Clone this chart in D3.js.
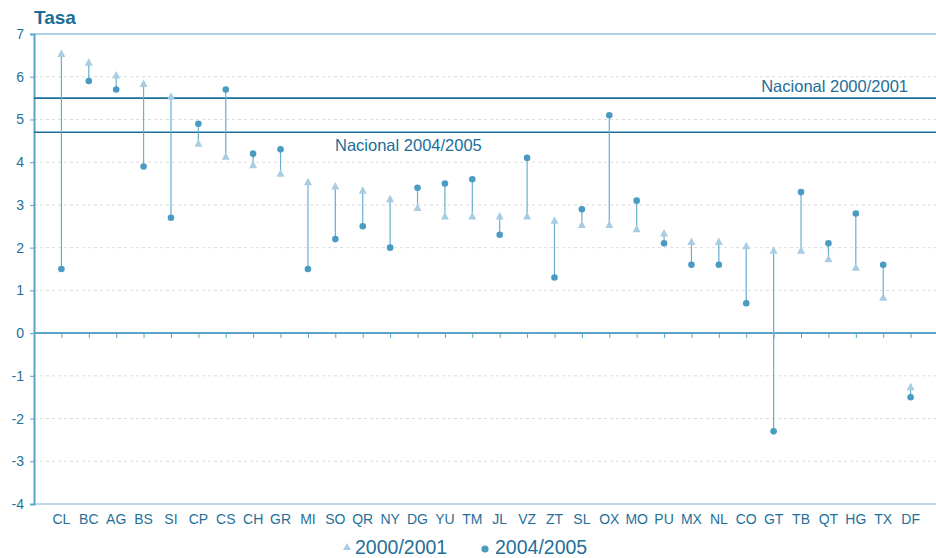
<!DOCTYPE html>
<html lang="es">
<head>
<meta charset="UTF-8">
<title>Tasa</title>
<script src="https://d3js.org/d3.v7.min.js"></script>
<style>
  body { margin: 0; background: #fff; }
  svg { font-family: "Liberation Sans", Arial, sans-serif; }
  .grid line { stroke: #dcdcdc; stroke-dasharray: 3,3; }
  .lbl { fill: #1f6f99; }
</style>
</head>
<body>
<svg width="936" height="558"></svg>
<script>
const states = ["CL","BC","AG","BS","SI","CP","CS","CH","GR","MI","SO","QR","NY","DG","YU","TM",
                "JL","VZ","ZT","SL","OX","MO","PU","MX","NL","CO","GT","TB","QT","HG","TX","DF"];
const tasa2000 = [6.6,6.4,6.1,5.9,5.6,4.5,4.2,4.0,3.8,3.6,3.5,3.4,3.2,3.0,2.8,2.8,
                  2.8,2.8,2.7,2.6,2.6,2.5,2.4,2.2,2.2,2.1,2.0,2.0,1.8,1.6,0.9,-1.2];
const tasa2004 = [1.5,5.9,5.7,3.9,2.7,4.9,5.7,4.2,4.3,1.5,2.2,2.5,2.0,3.4,3.5,3.6,
                  2.3,4.1,1.3,2.9,5.1,3.1,2.1,1.6,1.6,0.7,-2.3,3.3,2.1,2.8,1.6,-1.5];
const nacional = [{label: "Nacional 2000/2001", value: 5.5}, {label: "Nacional 2004/2005", value: 4.7}];
const yTicks = [7,6,5,4,3,2,1,0,-1,-2,-3,-4];
const seriesNames = ["2000/2001", "2004/2005"];

const cTri = "#a8cce1", cDot = "#4a9bc2", cAxis = "#5aa5c9", cNat = "#1b6e98";

const svg = d3.select("svg");
const mLeft = 34, mRight = 938, mTop = 34, mBottom = 504;

const x = d3.scalePoint().domain(states).range([mLeft, mRight]).padding(1);
const y = d3.scaleLinear().domain([-4, 7]).range([mBottom, mTop]);

const data = states.map((s, i) => ({s, a: tasa2000[i], b: tasa2004[i]}));

// title
svg.append("text").attr("x", 34).attr("y", 24)
  .attr("font-size", 19).attr("font-weight", "bold").attr("fill", "#1a6e98").text("Tasa");

// grid
svg.append("g").attr("class", "grid")
  .selectAll("line").data(yTicks.filter(t => t !== 0 && t !== 7 && t !== -4)).join("line")
  .attr("x1", mLeft).attr("x2", 936)
  .attr("y1", d => y(d)).attr("y2", d => y(d));

// top and bottom frame lines
svg.append("line").attr("x1", mLeft).attr("x2", 936).attr("y1", y(7)).attr("y2", y(7))
  .attr("stroke", cAxis).attr("stroke-width", 1);
svg.append("line").attr("x1", mLeft).attr("x2", 936).attr("y1", y(-4)).attr("y2", y(-4))
  .attr("stroke", "#a8cce1").attr("stroke-width", 1.5);

// y axis
const yAxis = svg.append("g").attr("transform", `translate(${mLeft},0)`)
  .call(d3.axisLeft(y).tickValues(yTicks).tickSize(4).tickPadding(6).tickFormat(d => String(d)));
yAxis.select(".domain").attr("stroke", cAxis).attr("stroke-width", 2);
yAxis.selectAll(".tick line").attr("stroke", cAxis);
yAxis.selectAll(".tick text").attr("fill", "#1f6f99").attr("font-size", 14)
  .attr("font-family", "Liberation Sans, Arial, sans-serif");

// zero axis with ticks
const xAxis = svg.append("g").attr("transform", `translate(0,${y(0)})`)
  .call(d3.axisBottom(x).tickSize(5).tickFormat(""));
xAxis.select(".domain").attr("d", `M${mLeft},0H936`).attr("stroke", cAxis).attr("stroke-width", 2);
xAxis.selectAll(".tick line").attr("stroke", cAxis);

// category labels
svg.append("g").selectAll("text").data(states).join("text")
  .attr("class", "lbl").attr("x", d => x(d)).attr("y", 524)
  .attr("text-anchor", "middle").attr("font-size", 14).text(d => d);

// national lines
nacional.forEach(n => {
  svg.append("line").attr("x1", mLeft).attr("x2", 936)
    .attr("y1", y(n.value)).attr("y2", y(n.value))
    .attr("stroke", cNat).attr("stroke-width", 1.6);
});
svg.append("text").attr("x", 908).attr("y", y(5.5) - 6).attr("text-anchor", "end")
  .attr("font-size", 16.5).attr("fill", cNat).text(nacional[0].label);
svg.append("text").attr("x", 335).attr("y", y(4.7) + 19)
  .attr("font-size", 16.5).attr("fill", cNat).text(nacional[1].label);

// connectors
svg.append("g").selectAll("line").data(data).join("line")
  .attr("x1", d => x(d.s)).attr("x2", d => x(d.s))
  .attr("y1", d => y(d.a)).attr("y2", d => y(d.b))
  .attr("stroke", "#6aaed0").attr("stroke-width", 1.2);

// triangles (2000/2001), apex at value
const tri = "M0,-1.5L4,6L-4,6Z";
svg.append("g").selectAll("path").data(data).join("path")
  .attr("d", tri).attr("fill", cTri)
  .attr("transform", d => `translate(${x(d.s)},${y(d.a)})`);

// dots (2004/2005)
svg.append("g").selectAll("circle").data(data).join("circle")
  .attr("cx", d => x(d.s)).attr("cy", d => y(d.b)).attr("r", 3.3).attr("fill", cDot);

// legend
const lg = svg.append("g");
lg.append("path").attr("d", "M0,-4L4,3L-4,3Z").attr("fill", cTri)
  .attr("transform", "translate(347,547)");
lg.append("text").attr("x", 355).attr("y", 554).attr("font-size", 19.5).attr("fill", "#1f6f99")
  .text(seriesNames[0]);
lg.append("circle").attr("cx", 485).attr("cy", 549).attr("r", 3.6).attr("fill", cDot);
lg.append("text").attr("x", 495).attr("y", 554).attr("font-size", 19.5).attr("fill", "#1f6f99")
  .text(seriesNames[1]);
</script>
</body>
</html>
